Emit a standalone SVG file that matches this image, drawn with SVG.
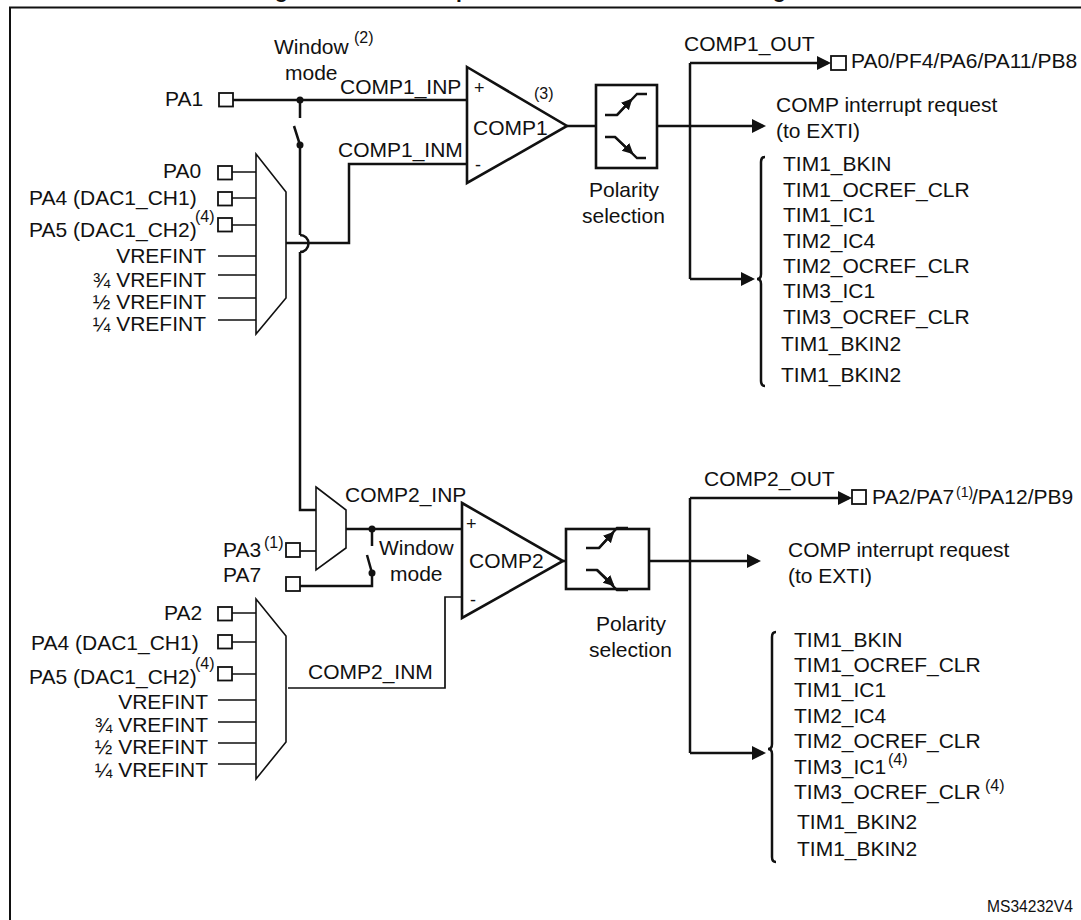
<svg xmlns="http://www.w3.org/2000/svg" width="1081" height="920" viewBox="0 0 1081 920">
<style>
text{font-family:"Liberation Sans",Arial,sans-serif;font-size:21px;fill:#111}
.sup{font-size:16px}
.nar{font-size:14px}
.sign{font-size:18px}
.title{font-weight:bold}
.end{text-anchor:end}
.shape{fill:#fff;stroke:#111;stroke-width:2.6}
.mux{fill:#fff;stroke:#111;stroke-width:1.6}
.pin{fill:#fff;stroke:#111;stroke-width:1.8}
.w{fill:none;stroke:#111;stroke-width:2.5}
.t{fill:none;stroke:#111;stroke-width:1.7}
.ic{fill:none;stroke:#111;stroke-width:2.4}
.dot{fill:#111}
</style>
<defs>
<marker id="ah" markerUnits="userSpaceOnUse" markerWidth="16" markerHeight="16" refX="11" refY="7" orient="auto"><path d="M0 0L14 7L0 14Z" fill="#111"/></marker>
<marker id="sa" markerUnits="userSpaceOnUse" markerWidth="12" markerHeight="12" refX="9" refY="5.5" orient="auto"><path d="M0 0L11 5.5L0 11Z" fill="#111"/></marker>
</defs>
<rect width="1081" height="920" fill="#fff"/>
<g id="frame"><path d="M1081 7.5H10V920" fill="none" stroke="#111" stroke-width="2"/>
<text class="title" x="275" y="-2">g</text><text class="title" x="456" y="-2">p</text><text class="title" x="773" y="-2">g</text></g>

<g id="connectors">
<path class="w" d="M233 100H467"/>
<path class="w" d="M300 100V118M294 126L300 145M300 145V235"/>
<path class="w" d="M300 235A8.500 8.500 0 0 1 300 252M300 252V510H316"/>
<path class="w" d="M286 243H349V164H467"/>
<path class="t" d="M232 172H256M232 198H256M232 225H256M218 256H256M218 275H256M218 298H256M218 320H256"/>
<path class="w" d="M567 126H596M657 126H690M690 126H763" marker-end="url(#ah)"/>
<path class="w" d="M690 63V279"/>
<path class="w" d="M690 63H828" marker-end="url(#ah)"/>
<path class="w" d="M690 279H752" marker-end="url(#ah)"/>
<path class="w" d="M765 157Q761 157 761 162V274Q761 279 757 279Q761 279 761 284V381Q761 386 765 386"/>
<path class="t" d="M300 551H316"/>
<path class="w" d="M346 529H462M372 529V546M367 555L372 573M372 573V586H300"/>
<path class="t" d="M288 688H445V597H462"/>
<path class="t" d="M232 613H256M232 642H256M232 674H256M218 700H256M218 722H256M218 743H256M218 764H256"/>
<path class="w" d="M563 561H566M649 561H690M690 561H758" marker-end="url(#ah)"/>
<path class="w" d="M690 498V753"/>
<path class="w" d="M690 498H849" marker-end="url(#ah)"/>
<path class="w" d="M690 753H763" marker-end="url(#ah)"/>
<path class="w" d="M776 632Q772 632 772 637V744Q772 749 768 749Q772 749 772 754V857Q772 862 776 862"/>
<circle class="dot" cx="300" cy="100" r="3.500"/><circle class="dot" cx="300" cy="145" r="3.500"/>
<circle class="dot" cx="372" cy="529" r="3.500"/><circle class="dot" cx="372" cy="573" r="3.500"/>
</g>

<g id="window1"><text x="274" y="54">Window</text><text class="sup" x="354" y="43">(2)</text><text x="285" y="80">mode</text></g>
<g id="comp1-inp-label"><text x="340" y="94">COMP1_INP</text></g>
<g id="comp1-inm-label"><text x="338" y="157">COMP1_INM</text></g>
<g id="pin-pa1"><text x="165" y="106">PA1</text><rect class="pin" x="219" y="93" width="14" height="13.500"/></g>
<g id="mux1"><path class="mux" d="M256 154L286 192V298L256 334Z"/></g>
<g id="mux1-inputs">
<text x="163" y="178">PA0</text><rect class="pin" x="218" y="166" width="14" height="13.500"/>
<text x="29" y="205">PA4 (DAC1_CH1)</text><rect class="pin" x="218" y="192" width="14" height="13.500"/>
<text x="29" y="237">PA5 (DAC1_CH2)</text><text class="sup" x="195" y="222">(4)</text><rect class="pin" x="218" y="218" width="14" height="13.500"/>
<text class="end" x="206" y="263">VREFINT</text><text class="end" x="206" y="287">¾ VREFINT</text><text class="end" x="206" y="309">½ VREFINT</text><text class="end" x="206" y="331">¼ VREFINT</text>
</g>
<g id="comp1"><path class="shape" d="M467 67L567 126L467 183Z"/><text x="473" y="135">COMP1</text><text class="sign" x="474" y="94">+</text><text class="sign" x="475" y="171">-</text><text class="sup" x="534" y="99">(3)</text></g>
<g id="polarity1"><rect class="shape" x="596" y="85" width="61" height="83"/>
<path class="ic" d="M605 115H617L637 94H647M605 137H615L637 158H646"/>
<path class="ic" d="M617 115L631 100" marker-end="url(#sa)"/><path class="ic" d="M615 137L632 153" marker-end="url(#sa)"/>
<text x="589" y="197">Polarity</text><text x="582" y="223">selection</text></g>
<g id="out1"><text x="684" y="51">COMP1_OUT</text><rect class="pin" x="831" y="56" width="15" height="14"/><text x="851" y="68">PA0/PF4/PA6/PA11/PB8</text></g>
<g id="irq1"><text x="776" y="112">COMP interrupt request</text><text x="776" y="138">(to EXTI)</text></g>
<g id="targets1">
<text x="783" y="171">TIM1_BKIN</text><text x="783" y="197">TIM1_OCREF_CLR</text><text x="783" y="222">TIM1_IC1</text><text x="783" y="248">TIM2_IC4</text><text x="783" y="273">TIM2_OCREF_CLR</text><text x="783" y="298">TIM3_IC1</text><text x="783" y="324">TIM3_OCREF_CLR</text><text x="781" y="351">TIM1_BKIN2</text><text x="781" y="382">TIM1_BKIN2</text>
</g>

<g id="mux2"><path class="mux" d="M316 487L346 510V548L316 570Z"/></g>
<g id="comp2-inp-label"><text x="345" y="502">COMP2_INP</text></g>
<g id="pin-pa3"><text x="223" y="557">PA3</text><text class="sup" x="264" y="548">(1)</text><rect class="pin" x="286" y="543" width="14" height="14"/></g>
<g id="pin-pa7"><text x="223" y="582">PA7</text><rect class="pin" x="286" y="577" width="14" height="14"/></g>
<g id="window2"><text x="379" y="555">Window</text><text x="390" y="581">mode</text></g>
<g id="comp2"><path class="shape" d="M462 503L563 561L462 618Z"/><text x="469" y="568">COMP2</text><text class="sign" x="466" y="530">+</text><text class="sign" x="470" y="606">-</text></g>
<g id="comp2-inm-label"><text x="308" y="679">COMP2_INM</text></g>
<g id="mux3"><path class="mux" d="M256 599L286 636V742L256 779Z"/></g>
<g id="mux3-inputs">
<text x="164" y="620">PA2</text><rect class="pin" x="218" y="607" width="14" height="13.500"/>
<text x="31" y="650">PA4 (DAC1_CH1)</text><rect class="pin" x="218" y="635" width="14" height="13.500"/>
<text x="29" y="684">PA5 (DAC1_CH2)</text><text class="sup" x="195" y="669">(4)</text><rect class="pin" x="218" y="667" width="14" height="13.500"/>
<text class="end" x="208" y="709">VREFINT</text><text class="end" x="208" y="732">¾ VREFINT</text><text class="end" x="208" y="754">½ VREFINT</text><text class="end" x="208" y="777">¼ VREFINT</text>
</g>
<g id="polarity2"><rect class="shape" x="566" y="529" width="83" height="60"/>
<path class="ic" d="M586 548H599L617 528H628M586 570H597L617 590H628"/>
<path class="ic" d="M599 548L613 533" marker-end="url(#sa)"/><path class="ic" d="M597 570L613 585" marker-end="url(#sa)"/>
<text x="596" y="631">Polarity</text><text x="589" y="657">selection</text></g>
<g id="out2"><text x="704" y="486">COMP2_OUT</text><rect class="pin" x="852" y="490" width="14" height="14"/><text x="872" y="504">PA2/PA7</text><text class="nar" x="956" y="497">(1)</text><text x="972" y="504">/PA12/PB9</text></g>
<g id="irq2"><text x="788" y="557">COMP interrupt request</text><text x="788" y="583">(to EXTI)</text></g>
<g id="targets2">
<text x="794" y="647">TIM1_BKIN</text><text x="794" y="672">TIM1_OCREF_CLR</text><text x="794" y="697">TIM1_IC1</text><text x="794" y="723">TIM2_IC4</text><text x="794" y="748">TIM2_OCREF_CLR</text><text x="794" y="774">TIM3_IC1</text><text class="sup" x="888" y="765">(4)</text><text x="794" y="799">TIM3_OCREF_CLR</text><text class="sup" x="985" y="791">(4)</text><text x="797" y="829">TIM1_BKIN2</text><text x="797" y="856">TIM1_BKIN2</text>
</g>
<g id="ref"><text x="987" y="912" style="font-size:15.600px">MS34232V4</text></g>
</svg>
